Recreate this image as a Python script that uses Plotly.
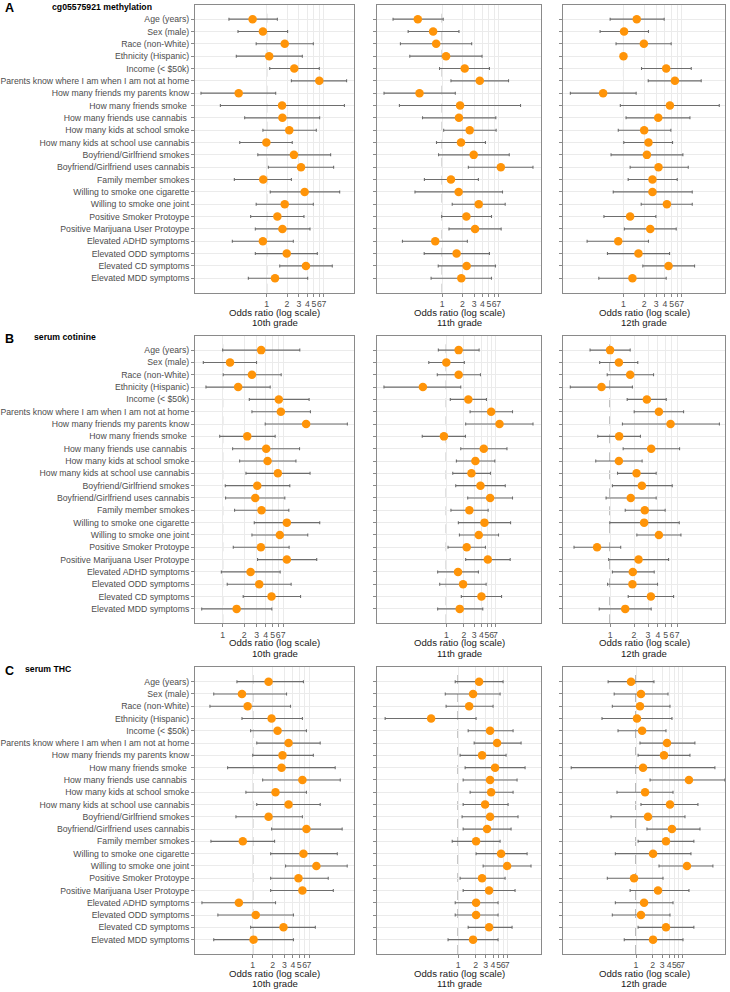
import math
import plotly.graph_objects as go

categories = [
    "Age (years)", "Sex (male)", "Race (non-White)", "Ethnicity (Hispanic)",
    "Income (< $50k)", "Parents know where I am when I am not at home",
    "How many friends my parents know", "How many friends smoke\u00a0",
    "How many friends use cannabis\u00a0", "How many kids at school smoke",
    "How many kids at school use cannabis", "Boyfriend/Girlfriend smokes",
    "Boyfriend/Girlfriend uses cannabis", "Family member smokes",
    "Willing to smoke one cigarette", "Willing to smoke one joint",
    "Positive Smoker Protoype", "Positive Marijuana User Protoype",
    "Elevated ADHD symptoms", "Elevated ODD symptoms", "Elevated CD symptoms",
    "Elevated MDD symptoms",
]
panel_titles = ["cg05575921 methylation", "serum cotinine", "serum THC"]
panel_letters = ["A", "B", "C"]
grades = ["10th grade", "11th grade", "12th grade"]
x_ticks = [1, 2, 3, 4, 5, 6, 7]

# ---- A: cg05575921 methylation ----
meth10_or = [0.62, 0.88, 1.85, 1.09, 2.56, 6.0, 0.386, 1.69, 1.71, 2.16, 0.99, 2.53, 3.22, 0.89, 3.64, 1.85, 1.44, 1.71, 0.88, 1.98, 3.81, 1.33]
meth10_lo = [0.277, 0.377, 0.70, 0.356, 1.11, 2.32, 0.107, 0.207, 0.473, 0.88, 0.40, 0.74, 1.06, 0.333, 1.13, 0.70, 0.58, 0.68, 0.311, 0.68, 1.56, 0.536]
meth10_hi = [1.44, 2.04, 4.90, 3.37, 6.0, 15.2, 1.36, 14.1, 6.07, 5.42, 2.39, 8.83, 9.77, 2.32, 12.0, 4.90, 3.56, 4.37, 2.48, 5.61, 9.34, 4.04]

meth11_or = [0.43, 0.73, 0.81, 1.14, 2.17, 3.65, 0.456, 1.85, 1.78, 2.58, 1.91, 2.96, 7.55, 1.35, 1.76, 3.52, 2.30, 3.10, 0.785, 1.64, 2.32, 1.93]
meth11_lo = [0.183, 0.308, 0.236, 0.326, 0.91, 1.35, 0.134, 0.228, 0.506, 1.05, 0.82, 0.88, 2.46, 0.54, 0.39, 1.41, 0.98, 1.26, 0.253, 0.536, 0.87, 0.68]
meth11_hi = [1.035, 1.78, 2.76, 3.95, 5.10, 9.85, 1.57, 14.9, 6.35, 6.42, 4.44, 10.1, 22.9, 3.48, 8.0, 8.78, 5.47, 7.64, 2.38, 5.10, 6.28, 5.47]

meth12_or = [1.56, 1.02, 1.98, 1.0, 4.18, 5.59, 0.506, 4.73, 3.20, 2.0, 2.31, 2.19, 3.23, 2.64, 2.64, 4.28, 1.25, 2.45, 0.84, 1.65, 4.52, 1.35]
meth12_lo = [0.64, 0.457, 0.78, 1.0, 1.83, 2.29, 0.169, 0.90, 1.09, 0.84, 1.01, 0.66, 1.25, 1.17, 0.71, 1.81, 0.52, 1.03, 0.296, 0.585, 1.91, 0.438]
meth12_hi = [3.91, 2.31, 4.94, 1.0, 9.67, 13.5, 1.53, 24.7, 9.25, 4.89, 5.17, 7.31, 8.75, 6.05, 10.0, 10.0, 2.96, 5.85, 2.31, 4.68, 10.8, 4.18]

# ---- B: serum cotinine ----
cot10_or = [3.46, 1.27, 2.57, 1.65, 6.11, 6.52, 14.7, 2.21, 4.07, 4.25, 5.92, 3.05, 2.86, 3.50, 7.90, 6.31, 3.43, 7.90, 2.46, 3.25, 4.83, 1.57]
cot10_lo = [1.0, 0.537, 1.02, 0.585, 2.36, 2.57, 3.94, 0.91, 1.38, 1.73, 2.12, 1.09, 1.10, 1.47, 2.77, 2.57, 1.41, 3.08, 0.96, 1.16, 1.94, 0.51]
cot10_hi = [12.0, 2.98, 6.59, 4.63, 16.2, 16.9, 55.5, 5.43, 11.9, 10.6, 16.7, 8.7, 7.41, 8.43, 22.8, 15.5, 8.51, 20.7, 6.38, 9.08, 12.3, 4.88]

cot11_or = [1.63, 1.0, 1.63, 0.396, 2.39, 5.89, 8.2, 0.91, 4.40, 3.16, 2.70, 3.86, 5.66, 2.49, 4.52, 3.61, 2.24, 5.16, 1.59, 1.94, 4.01, 1.70]
cot11_lo = [0.73, 0.50, 0.70, 0.085, 1.17, 2.56, 2.15, 0.386, 1.77, 1.49, 1.29, 1.45, 2.33, 1.20, 1.61, 1.68, 1.07, 2.15, 0.71, 0.77, 1.81, 0.71]
cot11_hi = [3.66, 2.04, 3.86, 1.77, 4.89, 13.7, 30.8, 2.13, 11.0, 6.81, 5.74, 10.3, 13.7, 5.23, 12.7, 7.88, 4.70, 12.5, 3.56, 4.83, 8.88, 4.23]

cot12_or = [1.0, 1.29, 1.79, 0.78, 2.90, 4.11, 5.76, 1.30, 3.29, 1.29, 2.15, 2.51, 1.82, 2.73, 2.68, 4.11, 0.686, 2.28, 1.93, 1.91, 3.26, 1.55]
cot12_lo = [0.56, 0.74, 0.92, 0.316, 1.64, 2.01, 1.43, 0.70, 1.46, 0.66, 1.24, 1.07, 0.89, 1.55, 0.99, 2.17, 0.352, 0.96, 1.07, 0.93, 1.69, 0.73]
cot12_hi = [1.79, 2.23, 3.52, 1.91, 5.08, 8.40, 23.7, 2.41, 7.48, 2.53, 3.80, 6.05, 3.80, 4.93, 7.41, 7.78, 1.36, 5.44, 3.59, 3.95, 6.29, 3.29]

# ---- C: serum THC ----
thc10_or = [1.73, 0.69, 0.84, 1.92, 2.36, 3.45, 2.80, 2.71, 5.57, 2.20, 3.45, 1.73, 6.40, 0.71, 5.77, 9.02, 4.86, 5.57, 0.62, 1.11, 2.90, 1.03]
thc10_lo = [0.58, 0.26, 0.228, 0.69, 0.93, 1.15, 1.0, 0.42, 1.41, 0.79, 1.15, 0.56, 1.92, 0.236, 1.86, 3.11, 1.86, 1.86, 0.173, 0.30, 0.93, 0.26]
thc10_hi = [5.77, 3.22, 3.69, 5.57, 6.40, 10.3, 8.13, 17.3, 20.6, 6.40, 10.3, 5.57, 22.0, 2.13, 18.6, 26.2, 13.6, 16.2, 2.20, 4.09, 8.71, 4.09]

thc11_or = [2.30, 1.81, 1.55, 0.342, 3.56, 4.70, 2.59, 4.34, 3.56, 3.71, 2.92, 3.56, 3.16, 2.04, 5.51, 7.0, 2.59, 3.42, 2.04, 2.04, 3.42, 1.81]
thc11_lo = [0.89, 0.60, 0.62, 0.055, 1.49, 1.89, 1.08, 1.32, 1.22, 1.61, 1.22, 1.17, 1.22, 0.79, 2.04, 2.70, 1.08, 1.22, 0.89, 0.89, 1.49, 0.67]
thc11_hi = [5.97, 5.30, 4.01, 2.04, 8.88, 12.2, 6.72, 14.3, 10.4, 8.88, 7.28, 10.8, 8.20, 5.30, 15.5, 18.1, 6.46, 9.6, 4.89, 4.89, 8.53, 4.89]

thc12_or = [0.81, 1.23, 1.18, 1.04, 1.29, 3.66, 3.23, 1.34, 9.2, 1.46, 4.15, 1.65, 4.51, 3.51, 2.04, 8.46, 0.92, 2.51, 1.40, 1.23, 3.51, 2.04]
thc12_lo = [0.31, 0.40, 0.37, 0.24, 0.47, 1.18, 1.09, 0.066, 1.80, 0.45, 1.23, 0.35, 1.58, 1.09, 0.42, 2.62, 0.30, 0.78, 0.42, 0.37, 1.09, 0.61]
thc12_hi = [2.12, 3.82, 4.15, 4.51, 3.51, 11.8, 9.59, 27.3, 41.5, 4.71, 13.4, 7.78, 14.6, 11.3, 10.0, 25.1, 3.10, 9.2, 4.71, 4.15, 11.3, 7.16]

series = [
    [(meth10_or, meth10_lo, meth10_hi), (meth11_or, meth11_lo, meth11_hi), (meth12_or, meth12_lo, meth12_hi)],
    [(cot10_or, cot10_lo, cot10_hi), (cot11_or, cot11_lo, cot11_hi), (cot12_or, cot12_lo, cot12_hi)],
    [(thc10_or, thc10_lo, thc10_hi), (thc11_or, thc11_lo, thc11_hi), (thc12_or, thc12_lo, thc12_hi)],
]

# ---------------- layout geometry (pixels) ----------------
W, H = 730, 992
col_px = [(195, 354), (377, 541), (563, 725)]
row_px = [(4.7, 292.7), (335.7, 623.3), (667.3, 954.0)]
# log10 axis ranges per panel
x_ranges = [
    [(-1.059, 1.291), (-0.978, 1.480), (-0.879, 1.476)],
    [(-0.386, 1.837), (-1.190, 1.626), (-0.592, 1.445)],
    [(-0.866, 1.520), (-1.400, 1.430), (-1.330, 1.620)],
]
title_pos = [((3, 7.5), (50, 6.5)), ((3, 339), (32, 337.3)), ((3, 670.5), (23, 669))]

def px_x(p):
    return p / W

def px_y(p):
    return 1 - p / H

ORANGE = "#FF9408"
BAR = "#6e6e6e"
GRID = "#EBEBEB"
BORDER = "#8a8a8a"
FONT = "Liberation Sans, Arial, sans-serif"

fig = go.Figure()
layout = dict(
    width=W, height=H, margin=dict(l=0, r=0, t=0, b=0),
    paper_bgcolor="white", plot_bgcolor="white", showlegend=False,
    font=dict(family=FONT, size=9, color="#4D4D4D"),
)
shapes = []
annotations = []
n_cat = len(categories)
yvals = list(range(n_cat))

idx = 0
for r in range(3):
    for c in range(3):
        idx += 1
        xa = "x" if idx == 1 else f"x{idx}"
        ya = "y" if idx == 1 else f"y{idx}"
        orv, lo, hi = series[r][c]
        fig.add_trace(go.Scatter(
            x=orv, y=yvals, xaxis=xa, yaxis=ya, mode="markers",
            marker=dict(color=ORANGE, size=8.5, line=dict(width=0)),
            error_x=dict(type="data", symmetric=False,
                         array=[h - o for h, o in zip(hi, orv)],
                         arrayminus=[o - l for o, l in zip(orv, lo)],
                         color=BAR, thickness=1.1, width=1.5),
            hoverinfo="skip",
        ))
        x0, x1 = col_px[c]
        y0, y1 = row_px[r]
        layout["xaxis" if idx == 1 else f"xaxis{idx}"] = dict(
            domain=[px_x(x0), px_x(x1)], anchor=ya, type="log",
            range=list(x_ranges[r][c]),
            tickvals=x_ticks, ticktext=[str(t) for t in x_ticks], tickangle=0,
            ticks="outside", ticklen=3, tickcolor=BORDER, tickwidth=1,
            tickfont=dict(size=8.7, color="#4D4D4D", family=FONT),
            showgrid=True, gridcolor=GRID, gridwidth=1,
            showline=True, linecolor=BORDER, linewidth=1, mirror=True,
            zeroline=False, fixedrange=True,
        )
        layout["yaxis" if idx == 1 else f"yaxis{idx}"] = dict(
            domain=[px_y(y1), px_y(y0)], anchor=xa,
            range=[n_cat - 1 + 1.17, -1.17],
            tickvals=yvals, ticktext=categories, showticklabels=(c == 0),
            ticks="outside", ticklen=3, tickcolor=BORDER, tickwidth=1,
            tickfont=dict(size=8.7, color="#4D4D4D", family=FONT),
            showgrid=True, gridcolor=GRID, gridwidth=1,
            showline=True, linecolor=BORDER, linewidth=1, mirror=True,
            zeroline=False, fixedrange=True,
        )
        shapes.append(dict(type="line", xref=xa, yref=f"{ya} domain",
                           x0=1, x1=1, y0=0, y1=1, layer="below",
                           line=dict(color="#6a6a6a", width=1, dash="dash")))
        cx = px_x((x0 + x1) / 2)
        annotations.append(dict(text="Odds ratio (log scale)", xref="paper", yref="paper",
                                x=cx, y=px_y(y1 + 19.6), xanchor="center", yanchor="middle",
                                showarrow=False, font=dict(size=9.6, color="#1a1a1a", family=FONT)))
        annotations.append(dict(text=grades[c], xref="paper", yref="paper",
                                x=cx, y=px_y(y1 + 29.8), xanchor="center", yanchor="middle",
                                showarrow=False, font=dict(size=9.6, color="#1a1a1a", family=FONT)))
    (lx, ly), (tx, ty) = title_pos[r]
    annotations.append(dict(text=f"<b>{panel_letters[r]}</b>", xref="paper", yref="paper",
                            x=px_x(lx), y=px_y(ly), xanchor="left", yanchor="middle",
                            showarrow=False, font=dict(size=12.5, color="black", family=FONT)))
    annotations.append(dict(text=f"<b>{panel_titles[r]}</b>", xref="paper", yref="paper",
                            x=px_x(tx), y=px_y(ty), xanchor="left", yanchor="middle",
                            showarrow=False, font=dict(size=8.7, color="black", family=FONT)))

layout["shapes"] = shapes
layout["annotations"] = annotations
fig.update_layout(**layout)
fig.write_html("out.html", config={"displayModeBar": False},
               post_script="document.body.style.margin='0';document.body.style.overflow='hidden';")
